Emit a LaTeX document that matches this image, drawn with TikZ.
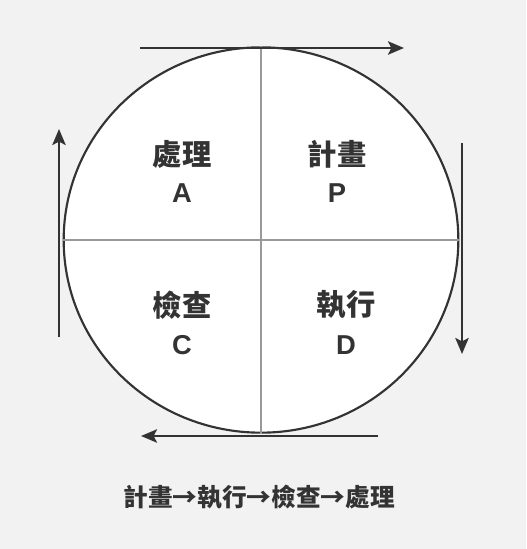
\documentclass[tikz,border=0pt]{standalone}
\usepackage{fontspec}
\setmainfont{Liberation Sans}
\newfontfamily\cjk{Noto Sans CJK TC}
\tikzset{>=stealth}
\usetikzlibrary{arrows.meta, shapes.geometric}

\definecolor{paper}{HTML}{F2F2F2}
\definecolor{ink}{HTML}{333333}
\definecolor{rule}{HTML}{999999}
\tikzset{
    flow/.style={-{Stealth[length=12pt,width=10pt,inset=2.5pt]}, ink, line width=1.7pt},
    stage/.style={text=ink, inner sep=0pt, font=\cjk\bfseries\fontsize{22}{26}\selectfont},
    letter/.style={text=ink, inner sep=0pt, font=\bfseries\fontsize{20.5}{24}\selectfont},
}

\begin{document}
\begin{tikzpicture}[x=0.75pt, y=-0.75pt]
    \fill[paper] (0,0) rectangle (526,549);
    \useasboundingbox (0,0) rectangle (526,549);
    \node[ellipse, draw=ink, line width=1.6pt, fill=white, inner sep=0pt,
          minimum width=296pt, minimum height=289pt] (cyc) at (261,240) {};
    \draw[rule, line width=0.8pt] (cyc.north) -- (cyc.south);
    \draw[rule, line width=0.8pt] (cyc.west) -- (cyc.east);
    % quadrants
    \node[stage] (act) at (182,154) {處理};
    \node[letter] (actL) at (182,193) {A};
    \node[stage] (plan) at (337,154) {計畫};
    \node[letter] (planL) at (337,193) {P};
    \node[stage] (check) at (182,305) {檢查};
    \node[letter] (checkL) at (182,345) {C};
    \node[stage] (do) at (346,305) {執行};
    \node[letter] (doL) at (346,345) {D};
    % arrows round the circle
    \coordinate (t1) at (140,48);  \coordinate (t2) at (404,48);
    \coordinate (r1) at (462,143); \coordinate (r2) at (462,354);
    \coordinate (b1) at (378,436); \coordinate (b2) at (141,436);
    \coordinate (l1) at (59,337);  \coordinate (l2) at (59,129);
    \draw[flow] (t1) -- (t2);
    \draw[flow] (r1) -- (r2);
    \draw[flow] (b1) -- (b2);
    \draw[flow] (l1) -- (l2);
    \node[text=ink, inner sep=0pt, font=\cjk\bfseries\fontsize{18.5}{22}\selectfont]
        (seq) at (259,497) {計畫→執行→檢查→處理};
\end{tikzpicture}
\end{document}
